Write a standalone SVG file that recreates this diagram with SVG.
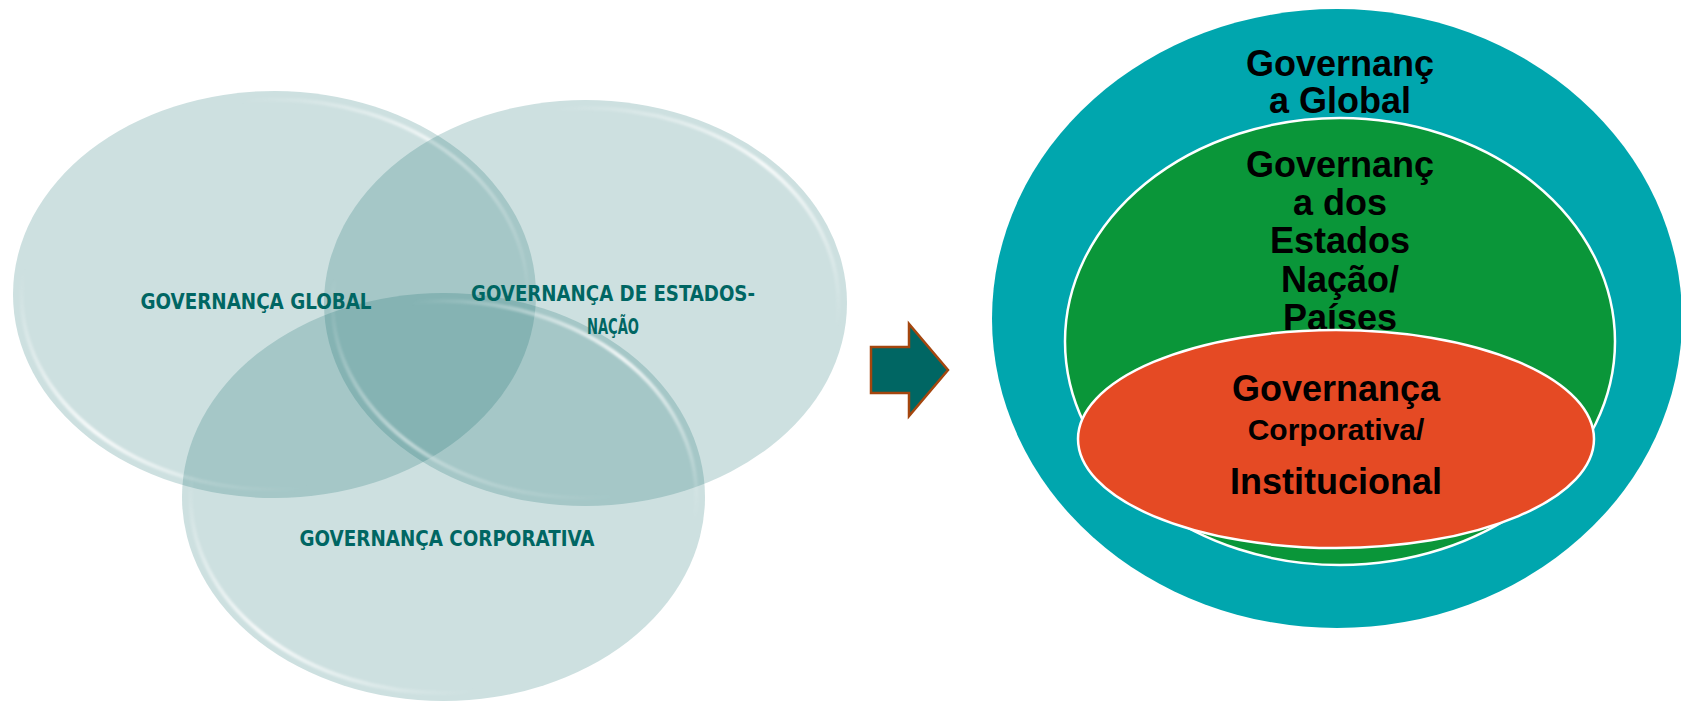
<svg xmlns="http://www.w3.org/2000/svg" width="1681" height="701" viewBox="0 0 1681 701">
<defs>
<linearGradient id="rim" x1="0" y1="0" x2="1" y2="1">
<stop offset="0" stop-color="#ffffff" stop-opacity="0"/>
<stop offset="0.22" stop-color="#ffffff" stop-opacity="0"/>
<stop offset="0.5" stop-color="#ffffff" stop-opacity="0.8"/>
<stop offset="0.78" stop-color="#ffffff" stop-opacity="0"/>
<stop offset="1" stop-color="#ffffff" stop-opacity="0"/>
</linearGradient>
<filter id="soft" x="-5%" y="-5%" width="110%" height="110%"><feGaussianBlur stdDeviation="1.2"/></filter>
</defs>
<style>
.venn{fill:#036464;fill-opacity:0.2;}
.rim{fill:none;stroke:url(#rim);stroke-width:4;filter:url(#soft);}
.vt{font-family:"Liberation Sans Narrow","DejaVu Sans Condensed","DejaVu Sans",sans-serif;font-stretch:condensed;font-weight:bold;font-size:22px;fill:#006663;text-anchor:middle;}
.rt{font-family:"Liberation Sans",Arial,sans-serif;font-weight:bold;font-size:36px;fill:#000;text-anchor:middle;}
.rs{font-size:30px;}
</style>
<rect width="1681" height="701" fill="#ffffff"/>
<g id="venn-global">
<ellipse class="venn" cx="274.5" cy="294.5" rx="261.5" ry="203.5"/>
<ellipse class="rim" cx="274.5" cy="294.5" rx="253" ry="195"/>
</g>
<g id="venn-estados">
<ellipse class="venn" cx="585.5" cy="303" rx="261.5" ry="203"/>
<ellipse class="rim" cx="585.5" cy="303" rx="253" ry="195"/>
</g>
<g id="venn-corporativa">
<ellipse class="venn" cx="443.5" cy="497" rx="261.5" ry="204"/>
<ellipse class="rim" cx="443.5" cy="497" rx="253" ry="196"/>
</g>
<g id="venn-labels">
<text class="vt" x="256" y="309" textLength="231" lengthAdjust="spacingAndGlyphs">GOVERNANÇA GLOBAL</text>
<text class="vt" x="613" y="301" textLength="284" lengthAdjust="spacingAndGlyphs">GOVERNANÇA DE ESTADOS-</text>
<text class="vt" x="613" y="334" textLength="52" lengthAdjust="spacingAndGlyphs">NAÇÃO</text>
<text class="vt" x="447" y="546" textLength="295" lengthAdjust="spacingAndGlyphs">GOVERNANÇA CORPORATIVA</text>
</g>
<g id="connectors">
<path id="arrow" d="M871,347 L909,347 L909,324 L948,370 L909,416 L909,393 L871,393 Z" fill="#006663" stroke="#A4460E" stroke-width="2.5" stroke-linejoin="miter"/>
</g>
<g id="global">
<ellipse cx="1337" cy="318.5" rx="345" ry="309.5" fill="#00A6AE"/>
<text class="rt" x="1340" y="76">Governanç</text>
<text class="rt" x="1340" y="113">a Global</text>
</g>
<g id="estados">
<ellipse cx="1340" cy="341.5" rx="275" ry="223.5" fill="#0A9639" stroke="#ffffff" stroke-width="2.5"/>
<text class="rt" x="1340" y="177">Governanç</text>
<text class="rt" x="1340" y="215">a dos</text>
<text class="rt" x="1340" y="253">Estados</text>
<text class="rt" x="1340" y="292">Nação/</text>
<text class="rt" x="1340" y="330">Países</text>
</g>
<g id="corporativa">
<ellipse cx="1336" cy="439" rx="258" ry="109" fill="#E54A24" stroke="#ffffff" stroke-width="2.5"/>
<text class="rt" x="1336" y="401">Governança</text>
<text class="rt rs" x="1336" y="440">Corporativa/</text>
<text class="rt" x="1336" y="494">Institucional</text>
</g>
</svg>
